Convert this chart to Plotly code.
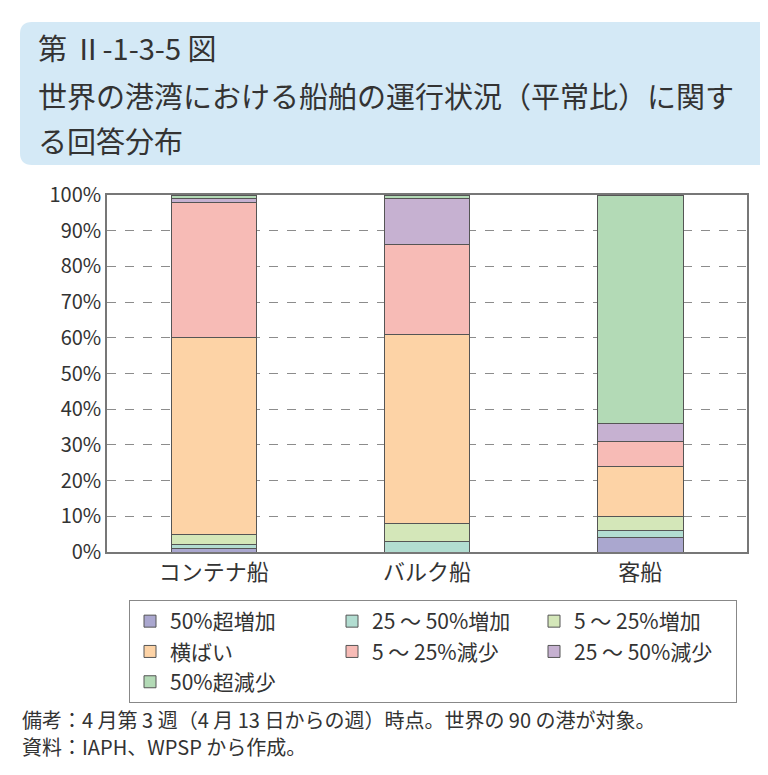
import plotly.graph_objects as go

# data
ships = ['コンテナ船', 'バルク船', '客船']
labels = ['50%超増加', '25 ～ 50%増加', '5 ～ 25%増加', '横ばい',
          '5 ～ 25%減少', '25 ～ 50%減少', '50%超減少']
inc50 = [1, 0, 4]
inc25_50 = [1, 3, 2]
inc5_25 = [3, 5, 4]
flat = [55, 53, 14]
dec5_25 = [38, 25, 7]
dec25_50 = [1, 13, 5]
dec50 = [1, 1, 64]
series = [inc50, inc25_50, inc5_25, flat, dec5_25, dec25_50, dec50]
colors = ['#aaa7cf', '#b2ddd1', '#d4e7b9', '#fdd3a6', '#f7bbb6', '#c6b1d1', '#b3dab6']

OFF = 8  # page body margin
W, H = 760, 767
L, T = 107 - OFF, 195 - OFF
R = W - (747 - OFF)
B = H - (552 - OFF)
pw, ph = W - L - R, H - T - B

# reference pixel -> paper coords
def px(x):
    return (x - OFF - L) / pw

def py(y):
    return (H - B - (y - OFF)) / ph

fig = go.Figure()
for name, vals, c in zip(labels, series, colors):
    fig.add_trace(go.Bar(x=ships, y=vals, name=name, width=0.4,
                         marker=dict(color=c, line=dict(color='#555555', width=1))))

font = 'Noto Sans CJK JP, Noto Sans, sans-serif'

# rounded title box
x0, x1, y0, y1, r = 20, 790, 22, 165, 12
path = (f'M{px(x0+r)},{py(y0)} L{px(x1-r)},{py(y0)} Q{px(x1)},{py(y0)} {px(x1)},{py(y0+r)} '
        f'L{px(x1)},{py(y1-r)} Q{px(x1)},{py(y1)} {px(x1-r)},{py(y1)} '
        f'L{px(x0+r)},{py(y1)} Q{px(x0)},{py(y1)} {px(x0)},{py(y1-r)} '
        f'L{px(x0)},{py(y0+r)} Q{px(x0)},{py(y0)} {px(x0+r)},{py(y0)} Z')
fig.add_shape(type='path', path=path, xref='paper', yref='paper',
              fillcolor='#d4e9f6', line=dict(width=0), layer='below')

titles = ['第 Ⅱ-1-3-5 図', '世界の港湾における船舶の運行状況（平常比）に関す', 'る回答分布']
for t, yy in zip(titles, [47, 95, 140]):
    fig.add_annotation(text=t, xref='paper', yref='paper', x=px(36), y=py(yy),
                       xanchor='left', yanchor='middle', showarrow=False,
                       font=dict(size=29, color='#333333', family=font))

notes = ['備考：4 月第 3 週（4 月 13 日からの週）時点。世界の 90 の港が対象。',
         '資料：IAPH、WPSP から作成。']
for t, yy in zip(notes, [719, 747]):
    fig.add_annotation(text=t, xref='paper', yref='paper', x=px(20), y=py(yy),
                       xanchor='left', yanchor='middle', showarrow=False,
                       font=dict(size=20, color='#333333', family=font))

fig.update_layout(
    width=W, height=H, barmode='stack',
    margin=dict(l=L, r=R, t=T, b=B),
    paper_bgcolor='white', plot_bgcolor='white',
    font=dict(family=font, color='#333333', size=20),
    legend=dict(orientation='h', traceorder='normal', x=px(129), y=py(600),
                xanchor='left', yanchor='top', entrywidth=157, entrywidthmode='pixels',
                bordercolor='#888888', borderwidth=1, bgcolor='white',
                font=dict(size=21, family=font)),
    xaxis=dict(showline=True, mirror=True, linecolor='#777777', linewidth=1.5,
               ticks='', tickfont=dict(size=22)),
    yaxis=dict(range=[0, 100], dtick=10, ticksuffix='%', showline=True, mirror=True,
               linecolor='#777777', linewidth=1.5, showgrid=True, gridcolor='#8c8c8c',
               griddash='dash', gridwidth=1, tickfont=dict(size=20), zeroline=False),
)

fig.write_html('out.html')
